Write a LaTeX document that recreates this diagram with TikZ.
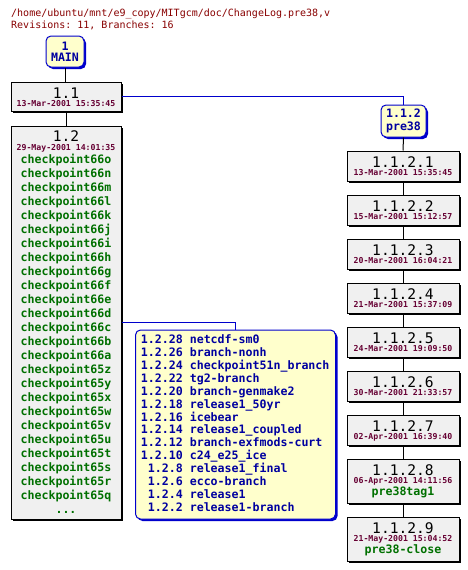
\documentclass[tikz,border=0pt]{standalone}
\usepackage{fontspec}
\setmonofont{DejaVu Sans Mono}
\usetikzlibrary{shadows}
\definecolor{titlered}{HTML}{880000}
\definecolor{datecol}{HTML}{660033}
\definecolor{taggreen}{HTML}{007000}
\definecolor{textblue}{HTML}{0000A0}
\definecolor{lineblue}{HTML}{0000CC}
\definecolor{boxgray}{HTML}{F0F0F0}
\definecolor{boxyellow}{HTML}{FFFFCC}
\tikzset{
  revbox/.style={draw=black, fill=boxgray, line width=1pt, inner sep=0pt,
    drop shadow={shadow xshift=2pt, shadow yshift=-2pt, fill=black, opacity=1}},
  tagbox/.style={draw=lineblue, fill=boxyellow, line width=1pt, inner sep=0pt, rounded corners=5pt,
    drop shadow={shadow xshift=2pt, shadow yshift=-2pt, fill=lineblue, opacity=1}},
  revtxt/.style={font=\ttfamily\fontsize{14.6}{15}\selectfont, anchor=base, inner sep=0pt, text height=10.6pt, text depth=0pt},
  datetxt/.style={font=\ttfamily\bfseries\fontsize{8.2}{9}\selectfont, text=datecol, anchor=base, inner sep=0pt, text height=6pt, text depth=0pt},
  greentxt/.style={font=\ttfamily\bfseries\fontsize{11.6}{12}\selectfont, text=taggreen, anchor=base, inner sep=0pt, text height=8.6pt, text depth=2.4pt},
  bluetxt/.style={font=\ttfamily\bfseries\fontsize{11.6}{12}\selectfont, text=textblue, anchor=base, inner sep=0pt, text height=8.6pt, text depth=2.4pt},
  titletxt/.style={font=\ttfamily\fontsize{10}{11}\selectfont, text=titlered, anchor=base west, inner sep=0pt, text height=7.5pt, text depth=2pt},
  conn/.style={line width=1pt, draw=black},
  bconn/.style={line width=1pt, draw=lineblue},
}
\begin{document}
\begin{tikzpicture}[x=1pt,y=-1pt]
\useasboundingbox[fill=white] (0,0) rectangle (468,570);

% title
\node[titletxt] (title1) at (11,16.5) {/home/ubuntu/mnt/e9\_copy/MITgcm/doc/ChangeLog.pre38,v};
\node[titletxt] (title2) at (11,28.5) {Revisions: 11, Branches: 16};

% boxes
\node[tagbox, minimum width=38pt, minimum height=31pt] (main) at (65,51.5) {};
\node[revbox, minimum width=110pt, minimum height=29pt] (r11) at (66,96.5) {};
\node[revbox, minimum width=110pt, minimum height=393pt] (r12) at (66,322.5) {};
\node[tagbox, minimum width=200pt, minimum height=189pt] (br12) at (235.5,424.5) {};
\node[tagbox, minimum width=45pt, minimum height=32pt] (b112) at (403.5,121) {};
\foreach \k in {1,...,7} {
  \node[revbox, minimum width=112pt, minimum height=30pt] (r112\k) at (403,{166+44*(\k-1)}) {};
}
\node[revbox, minimum width=112pt, minimum height=44pt] (r1128) at (403,481) {};
\node[revbox, minimum width=112pt, minimum height=44pt] (r1129) at (403,539) {};

% connectors
\draw[conn] (main.south) -- (main.south |- r11.north);
\draw[conn] (r11.south) -- (r11.south |- r12.north);
\draw[bconn] (r11.east) -| (b112.north);
\draw[bconn] (r12.east) -| (br12.north);
\draw[conn] (b112.south) -- (r1121.north);
\draw[conn] (r1121.south) -- (r1122.north);
\draw[conn] (r1122.south) -- (r1123.north);
\draw[conn] (r1123.south) -- (r1124.north);
\draw[conn] (r1124.south) -- (r1125.north);
\draw[conn] (r1125.south) -- (r1126.north);
\draw[conn] (r1126.south) -- (r1127.north);
\draw[conn] (r1127.south) -- (r1128.north);
\draw[conn] (r1128.south) -- (r1129.north);

% MAIN
\node[bluetxt] (mainnum) at (65,50) {1};
\node[bluetxt] (mainname) at (65,61.5) {MAIN};

% 1.1
\node[revtxt] (r11num) at (66,98.5) {1.1};
\node[datetxt] (r11date) at (66,106.7) {13-Mar-2001 15:35:45};

% 1.2
\node[revtxt] (r12num) at (66,141.8) {1.2};
\node[datetxt] (r12date) at (66,150) {29-May-2001 14:01:35};
\foreach \t [count=\i from 0] in {66o,66n,66m,66l,66k,66j,66i,66h,66g,66f,66e,66d,66c,66b,66a,65z,65y,65x,65w,65v,65u,65t,65s,65r,65q} {
  \node[greentxt] (cp\i) at (66,{163.3+14*\i}) {checkpoint\t};
}
\node[greentxt] (cpdots) at (66,513) {...};

% branch list
\foreach \n/\l [count=\i from 0] in {
  1.2.28/netcdf-sm0,
  1.2.26/branch-nonh,
  1.2.24/checkpoint51n\_branch,
  1.2.22/tg2-branch,
  1.2.20/branch-genmake2,
  1.2.18/release1\_50yr,
  1.2.16/icebear,
  1.2.14/release1\_coupled,
  1.2.12/branch-exfmods-curt,
  1.2.10/c24\_e25\_ice,
  {\phantom{1}1.2.8}/release1\_final,
  {\phantom{1}1.2.6}/ecco-branch,
  {\phantom{1}1.2.4}/release1,
  {\phantom{1}1.2.2}/release1-branch} {
  \node[bluetxt, anchor=base west, text height=8.4pt, text depth=2.3pt] (bl\i) at (140.7,{343.3+12.95*\i}) {\n\ \l};
}

% 1.1.2
\node[bluetxt] (b112num) at (403.5,117.3) {1.1.2};
\node[bluetxt] (b112name) at (403.5,130) {pre38};

% 1.1.2.x
\foreach \k/\d in {1/13-Mar-2001 15:35:45, 2/15-Mar-2001 15:12:57, 3/20-Mar-2001 16:04:21, 4/21-Mar-2001 15:37:09, 5/24-Mar-2001 19:09:50, 6/30-Mar-2001 21:33:57, 7/02-Apr-2001 16:39:40} {
  \node[revtxt] (r112\k num) at (403,{151+44*(\k-1)+16.3}) {1.1.2.\k};
  \node[datetxt] (r112\k date) at (403,{151+44*(\k-1)+24.3}) {\d};
}
\node[revtxt] (r1128num) at (403,475.7) {1.1.2.8};
\node[datetxt] (r1128date) at (403,483.7) {06-Apr-2001 14:11:56};
\node[greentxt] (r1128tag) at (403,495.5) {pre38tag1};
\node[revtxt] (r1129num) at (403,533) {1.1.2.9};
\node[datetxt] (r1129date) at (403,541) {21-May-2001 15:04:52};
\node[greentxt] (r1129tag) at (403,553.5) {pre38-close};
\end{tikzpicture}
\end{document}
